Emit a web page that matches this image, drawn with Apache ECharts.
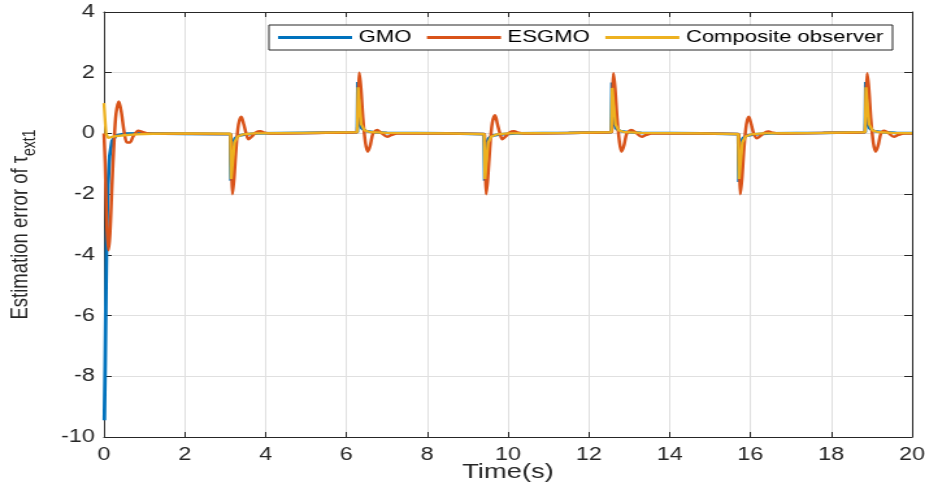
<!DOCTYPE html>
<html><head><meta charset="utf-8">
<script src="https://cdn.jsdelivr.net/npm/echarts@6/dist/echarts.min.js"></script>
<style>
html,body{margin:0;padding:0;background:#fff;overflow:hidden;}
#wrap{width:925px;height:492px;overflow:hidden;background:#fff;}
#chart{width:712px;height:492px;transform:scaleX(1.2992);transform-origin:0 0;}
</style></head><body>
<div id="wrap"><div id="chart"></div></div>
<script>
// ---- tick values ----
const xTicks = [0, 2, 4, 6, 8, 10, 12, 14, 16, 18, 20];
const yTicks = [-10, -8, -6, -4, -2, 0, 2, 4];
const seriesNames = ['GMO', 'ESGMO', 'Composite observer'];

// ---- GMO ----
const gmoTime = [0.01,0.03,0.05,0.07,0.10,0.14,0.20,0.30,0.50,1.00,2.00,3.13,
 3.14,3.145,3.16,3.19,3.24,3.34,3.50,3.80,5.00,6.27,
 6.28,6.285,6.30,6.33,6.38,6.48,6.65,7.00,8.50,9.41,
 9.42,9.425,9.44,9.47,9.52,9.62,9.80,10.20,11.50,12.56,
 12.57,12.575,12.59,12.62,12.67,12.77,12.95,13.30,14.80,15.70,
 15.71,15.715,15.73,15.76,15.81,15.91,16.10,16.50,17.80,18.84,
 18.85,18.855,18.87,18.90,18.95,19.05,19.25,19.60,20.00];
const gmoError = [-9.45,-7.6,-5.2,-3.2,-1.7,-0.75,-0.25,-0.07,-0.01,0.00,-0.01,-0.02,
 -0.02,-1.56,-0.90,-0.40,-0.17,-0.07,-0.03,0.00,0.02,0.04,
 0.04,1.69,0.95,0.40,0.17,0.08,0.04,0.02,0.00,-0.02,
 -0.02,-1.56,-0.90,-0.40,-0.17,-0.07,-0.03,0.00,0.02,0.04,
 0.04,1.68,0.95,0.40,0.17,0.08,0.04,0.02,0.00,-0.02,
 -0.02,-1.60,-0.90,-0.40,-0.17,-0.07,-0.03,0.00,0.02,0.04,
 0.04,1.69,0.95,0.40,0.17,0.08,0.04,0.02,0.01];

// ---- ESGMO ----
const esgmoTime = [0.00,0.03,0.07,0.11,0.15,0.20,0.25,0.30,0.37,0.43,0.50,0.57,0.64,0.73,0.85,0.95,1.10,1.50,3.12,
 3.14,3.16,3.18,3.22,3.27,3.33,3.40,3.46,3.52,3.58,3.66,3.76,3.87,3.98,4.10,5.50,6.27,
 6.28,6.30,6.32,6.36,6.41,6.47,6.53,6.59,6.66,6.76,6.86,7.01,7.12,7.25,8.50,9.40,
 9.42,9.44,9.46,9.50,9.55,9.61,9.68,9.74,9.80,9.86,9.94,10.04,10.15,10.26,10.40,11.80,12.55,
 12.57,12.59,12.61,12.65,12.70,12.76,12.81,12.87,12.94,13.05,13.17,13.31,13.42,13.55,14.80,15.69,
 15.71,15.73,15.75,15.79,15.84,15.90,15.96,16.02,16.08,16.16,16.25,16.35,16.45,16.56,16.70,18.00,18.84,
 18.85,18.87,18.89,18.93,18.98,19.04,19.10,19.16,19.23,19.31,19.41,19.55,19.66,19.80,20.00];
const esgmoError = [0.00,-1.00,-3.00,-3.85,-3.30,-1.70,-0.30,0.65,1.05,0.70,0.05,-0.30,-0.30,-0.08,0.09,0.05,0.00,-0.01,-0.02,
 -0.05,-1.20,-2.00,-1.50,-0.50,0.30,0.55,0.30,0.00,-0.19,-0.10,0.03,0.07,0.02,0.00,0.02,0.04,
 0.06,1.30,2.00,1.50,0.50,-0.30,-0.60,-0.40,0.00,0.11,0.02,-0.11,-0.05,0.00,0.00,-0.02,
 -0.05,-1.20,-2.00,-1.50,-0.50,0.35,0.60,0.30,0.00,-0.19,-0.10,0.03,0.07,0.02,0.00,0.02,0.04,
 0.06,1.30,1.98,1.50,0.50,-0.30,-0.60,-0.40,0.00,0.11,0.02,-0.11,-0.05,0.00,0.00,-0.02,
 -0.05,-1.20,-2.00,-1.50,-0.50,0.30,0.55,0.30,0.00,-0.16,-0.08,0.02,0.06,0.02,0.00,0.02,0.04,
 0.06,1.30,1.98,1.50,0.50,-0.30,-0.60,-0.40,0.00,0.09,0.02,-0.11,-0.05,0.00,0.00];

// ---- Composite observer ----
const compTime = [0.00,0.02,0.035,0.05,0.10,0.25,0.50,0.80,1.20,2.00,3.13,
 3.14,3.15,3.175,3.23,3.31,3.45,3.70,5.00,6.27,
 6.28,6.29,6.315,6.37,6.45,6.60,7.00,8.50,9.41,
 9.42,9.43,9.455,9.51,9.59,9.73,10.00,11.50,12.56,
 12.57,12.58,12.605,12.66,12.74,12.89,13.30,14.80,15.70,
 15.71,15.72,15.745,15.80,15.88,16.02,16.30,17.80,18.84,
 18.85,18.86,18.885,18.94,19.02,19.17,19.50,20.00];
const compError = [1.00,0.95,0.30,0.00,-0.15,-0.10,-0.06,-0.03,-0.01,0.00,-0.01,
 -0.01,-1.50,-1.10,-0.30,-0.10,-0.03,0.00,0.02,0.04,
 0.04,1.52,1.10,0.30,0.10,0.04,0.02,0.00,-0.02,
 -0.02,-1.50,-1.10,-0.30,-0.10,-0.03,0.00,0.02,0.04,
 0.04,1.50,1.10,0.30,0.10,0.04,0.02,0.00,-0.02,
 -0.02,-1.50,-1.10,-0.30,-0.10,-0.03,0.00,0.02,0.04,
 0.04,1.52,1.10,0.30,0.10,0.04,0.02,0.01];

function zip(t, v) { return t.map((x, i) => [x, v[i]]); }

const FONT = "'Liberation Sans', Arial, Helvetica, sans-serif";
const AX = '#262626';
const GRIDC = '#e0e0e0';
const COLORS = ['#0072BD', '#D95319', '#EDB120'];

const chart = echarts.init(document.getElementById('chart'), null, {renderer: 'canvas'});
const xMin = xTicks[0], xMax = xTicks[xTicks.length - 1], xStep = xTicks[1] - xTicks[0];
const yMin = yTicks[0], yMax = yTicks[yTicks.length - 1], yStep = yTicks[1] - yTicks[0];

chart.setOption({
  animation: false,
  backgroundColor: '#ffffff',
  grid: {left: 80, right: 10, top: 12, bottom: 55, containLabel: false, outerBoundsMode: 'none'},
  legend: {
    left: 207, top: 25,
    orient: 'horizontal',
    padding: [4, 7],
    icon: 'rect',
    itemWidth: 57, itemHeight: 3, itemGap: 12,
    borderColor: AX, borderWidth: 1, backgroundColor: '#ffffff',
    textStyle: {fontFamily: FONT, fontSize: 17, color: '#000000', lineHeight: 17},
    data: seriesNames.map((n, i) => ({name: n, itemStyle: {color: COLORS[i]}}))
  },
  xAxis: [{
    type: 'value', min: xMin, max: xMax, interval: xStep,
    name: 'Time(s)', nameLocation: 'middle', nameGap: 25, nameMoveOverlap: false,
    nameTextStyle: {fontFamily: FONT, fontSize: 21, color: AX},
    axisLine: {show: true, onZero: false, lineStyle: {color: AX, width: 1}},
    axisTick: {show: true, inside: true, length: 5, lineStyle: {color: AX}},
    axisLabel: {fontFamily: FONT, fontSize: 18, color: AX, margin: 9},
    splitLine: {show: true, lineStyle: {color: GRIDC, width: 1}}
  }, {
    type: 'value', min: xMin, max: xMax, interval: xStep, position: 'top',
    axisLine: {show: true, onZero: false, lineStyle: {color: AX, width: 1}},
    axisTick: {show: true, inside: true, length: 5, lineStyle: {color: AX}},
    axisLabel: {show: false}, splitLine: {show: false}
  }],
  yAxis: [{
    type: 'value', min: yMin, max: yMax, interval: yStep,
    name: '{m|Estimation error of }{t|τ}{s|ext1}',
    nameLocation: 'middle', nameGap: 50, nameRotate: 90, nameMoveOverlap: false,
    nameTextStyle: {
      fontFamily: FONT, fontSize: 18.5, color: AX,
      rich: {
        m: {fontFamily: FONT, fontSize: 18.5, color: AX},
        t: {fontFamily: FONT, fontSize: 18.5, color: AX},
        s: {fontFamily: FONT, fontSize: 14, color: AX, padding: [14, 0, 0, 0]}
      }
    },
    axisLine: {show: true, onZero: false, lineStyle: {color: AX, width: 1}},
    axisTick: {show: true, inside: true, length: 6, lineStyle: {color: AX}},
    axisLabel: {fontFamily: FONT, fontSize: 18, color: AX, margin: 7},
    splitLine: {show: true, lineStyle: {color: GRIDC, width: 1}}
  }, {
    type: 'value', min: yMin, max: yMax, interval: yStep, position: 'right',
    axisLine: {show: true, onZero: false, lineStyle: {color: AX, width: 1}},
    axisTick: {show: true, inside: true, length: 6, lineStyle: {color: AX}},
    axisLabel: {show: false}, splitLine: {show: false}
  }],
  series: [{
    name: seriesNames[0], type: 'line', xAxisIndex: 0, yAxisIndex: 0,
    data: zip(gmoTime, gmoError), symbol: 'none', smooth: false,
    lineStyle: {color: COLORS[0], width: 2.8}, itemStyle: {color: COLORS[0]}, z: 2
  }, {
    name: seriesNames[1], type: 'line', xAxisIndex: 0, yAxisIndex: 0,
    data: zip(esgmoTime, esgmoError), symbol: 'none', smooth: 0.3,
    lineStyle: {color: COLORS[1], width: 2.5}, itemStyle: {color: COLORS[1]}, z: 3
  }, {
    name: seriesNames[2], type: 'line', xAxisIndex: 0, yAxisIndex: 0,
    data: zip(compTime, compError), symbol: 'none', smooth: false,
    lineStyle: {color: COLORS[2], width: 2.3}, itemStyle: {color: COLORS[2]}, z: 4
  }]
});
</script>
</body></html>
